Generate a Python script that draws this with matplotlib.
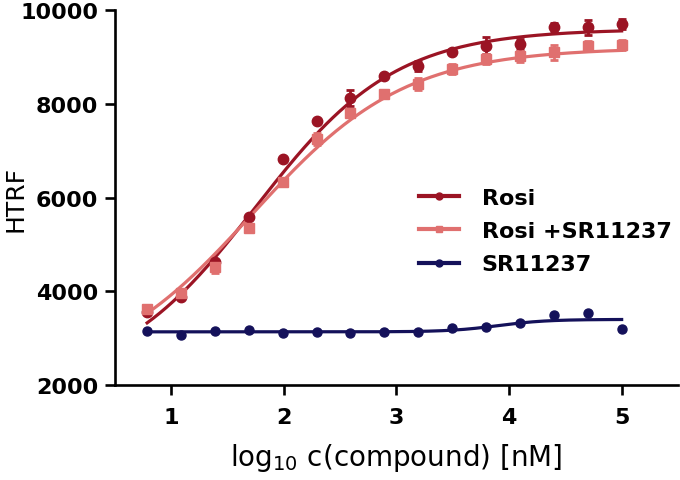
import numpy as np
import matplotlib
matplotlib.use("Agg")
import matplotlib.pyplot as plt
from matplotlib.lines import Line2D

# log10 concentration (nM), 1:2 dilution series
log_conc = [0.786, 1.087, 1.388, 1.689, 1.990, 2.291, 2.592, 2.893,
            3.194, 3.495, 3.796, 4.097, 4.398, 4.699, 5.000]

# HTRF signal, mean and error
rosi_mean = [3550, 3885, 4620, 5580, 6825, 7630, 8120, 8600,
             8815, 9120, 9240, 9280, 9635, 9635, 9705]
rosi_err = [30, 30, 40, 40, 30, 40, 170, 40, 110, 40, 180, 100, 100, 160, 110]

rosi_sr_mean = [3620, 3960, 4510, 5350, 6330, 7250, 7800, 8205,
                8420, 8745, 8960, 9015, 9100, 9240, 9265]
rosi_sr_err = [50, 40, 110, 60, 40, 130, 50, 60, 125, 105, 105, 125, 160, 105, 105]

sr_mean = [3160, 3065, 3155, 3165, 3110, 3140, 3110, 3140,
           3140, 3215, 3245, 3330, 3495, 3535, 3195]

# 4PL fit parameters: bottom, top, logEC50, hill slope
rosi_fit = (2000, 9600, 1.75, 0.70)
rosi_sr_fit = (2100, 9200, 1.72, 0.64)
sr_fit = (3135, 3400, 3.9, 2.0)

labels = ["Rosi", "Rosi +SR11237", "SR11237"]
colors = ["#9b1424", "#e0706f", "#14115a"]


def four_pl(x, params):
    bottom, top, logec50, hill = params
    return bottom + (top - bottom) / (1 + 10 ** ((logec50 - x) * hill))


def main():
    fig = plt.figure(figsize=(6.8, 4.81), dpi=100)
    ax = fig.add_axes([0.169, 0.1975, 0.828, 0.779])

    xs = np.linspace(min(log_conc), max(log_conc), 300)

    series = [
        (rosi_mean, rosi_err, rosi_fit, "o", 7.5),
        (rosi_sr_mean, rosi_sr_err, rosi_sr_fit, "s", 7.5),
        (sr_mean, None, sr_fit, "o", 6.5),
    ]
    for (mean, err, fit, marker, ms), color in zip(series, colors):
        ax.plot(xs, four_pl(xs, fit), color=color, lw=2.3, zorder=2)
        ax.errorbar(log_conc, mean, yerr=err, fmt=marker, ms=ms, color=color,
                    mec=color, ecolor=color, elinewidth=2, capsize=3,
                    capthick=2, zorder=3, clip_on=False)

    ax.set_xlim(0.5, 5.5)
    ax.set_ylim(2000, 10000)
    ax.set_xticks([1, 2, 3, 4, 5])
    ax.set_yticks([2000, 4000, 6000, 8000, 10000])

    for side in ["top", "right"]:
        ax.spines[side].set_visible(False)
    for side in ["left", "bottom"]:
        ax.spines[side].set_linewidth(1.9)
    ax.tick_params(direction="out", length=7, width=1.9, labelsize=16, pad=5)
    ax.tick_params(axis="x", pad=9)
    for lab in ax.get_xticklabels() + ax.get_yticklabels():
        lab.set_fontweight("bold")

    ax.set_xlabel("log$_{10}$ c(compound) [nM]", fontsize=20, labelpad=10)
    ax.set_ylabel("HTRF", fontsize=18)
    ax.yaxis.set_label_coords(-0.155, 0.5)

    handles = [
        Line2D([], [], color=colors[0], lw=3, marker="o", ms=5),
        Line2D([], [], color=colors[1], lw=3, marker="s", ms=5),
        Line2D([], [], color=colors[2], lw=3, marker="o", ms=5),
    ]
    ax.legend(handles, labels, loc="upper left", bbox_to_anchor=(0.525, 0.55),
              frameon=False, prop={"size": 16, "weight": "bold"},
              handlelength=1.8, handletextpad=1.0, labelspacing=0.6,
              borderaxespad=0)

    fig.savefig("out.png", dpi=100)
    plt.close(fig)


if __name__ == "__main__":
    main()
